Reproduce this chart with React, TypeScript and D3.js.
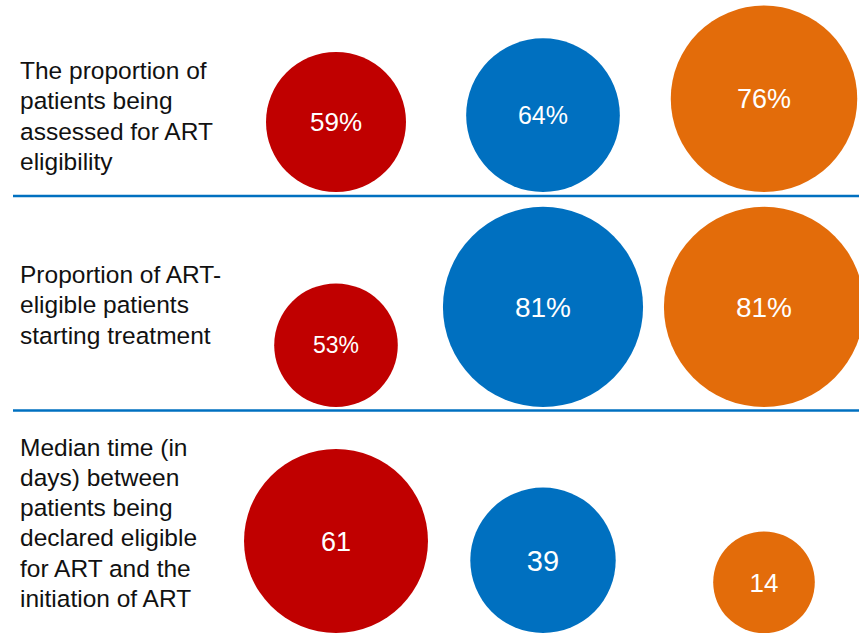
import React from "react";
import * as d3 from "d3";

// ---- data ----
const rowLabels: string[][] = [
  ["The proportion of", "patients being", "assessed for ART", "eligibility"],
  ["Proportion of ART-", "eligible patients", "starting treatment"],
  [
    "Median time (in",
    "days) between",
    "patients being",
    "declared eligible",
    "for ART and the",
    "initiation of ART",
  ],
];
const rowUnits = ["%", "%", ""];
const seriesKeys = ["red", "blue", "orange"];
const redValues = [59, 53, 61];
const blueValues = [64, 81, 39];
const orangeValues = [76, 81, 14];

// ---- layout / style ----
const W = 859;
const H = 633;
const COLORS: Record<string, string> = {
  red: "#C00000",
  blue: "#0070C0",
  orange: "#E36C0A",
};
const SEP_COLOR = "#0070C0";
const separatorsY = [196, 410.5];
const rowBottoms = [192, 407, 633];
const labelFirstBaseline = [79, 283, 455.5];
const LINE_H = 30.3;
const LABEL_FS = 24.5;
const VALUE_FS = [
  [26, 25, 27],
  [23, 28, 28],
  [27, 29, 26],
];

export default function App() {
  const values = [redValues, blueValues, orangeValues];
  const x = d3.scaleOrdinal<string, number>().domain(seriesKeys).range([336, 543, 764]);
  const pctRadius = d3.scaleLinear().domain([50, 80]).range([57.7, 98.7]);
  const dayRadius = d3.scaleLinear().domain([10, 60]).range([47.3, 91.1]);
  const radiusFor = (row: number, v: number) => (rowUnits[row] === "%" ? pctRadius(v) : dayRadius(v));

  return (
    <div style={{ position: "fixed", left: 0, top: 0, width: W, height: H, background: "#fff" }}>
      <svg width={W} height={H} style={{ display: "block" }}>
        <rect width={W} height={H} fill="#fff" />
        {separatorsY.map((y, i) => (
          <line key={i} x1={13} x2={W} y1={y} y2={y} stroke={SEP_COLOR} strokeWidth={2.5} />
        ))}
        {rowLabels.map((lines, r) => (
          <text
            key={"l" + r}
            fontFamily="'Liberation Sans', Arial, sans-serif"
            fontSize={LABEL_FS}
            fill="#111"
          >
            {lines.map((ln, i) => (
              <tspan key={i} x={20} y={labelFirstBaseline[r] + i * LINE_H}>
                {ln}
              </tspan>
            ))}
          </text>
        ))}
        {rowLabels.map((_, r) =>
          seriesKeys.map((k, s) => {
            const v = values[s][r];
            const rad = radiusFor(r, v);
            const cx = x(k);
            const cy = rowBottoms[r] - rad;
            return (
              <g key={r + "-" + k}>
                <circle cx={cx} cy={cy} r={rad} fill={COLORS[k]} />
                <text
                  x={cx}
                  y={cy}
                  dy="0.36em"
                  textAnchor="middle"
                  fill="#fff"
                  fontFamily="'Liberation Sans', Arial, sans-serif"
                  fontSize={VALUE_FS[r][s]}
                >
                  {v + rowUnits[r]}
                </text>
              </g>
            );
          })
        )}
      </svg>
    </div>
  );
}
